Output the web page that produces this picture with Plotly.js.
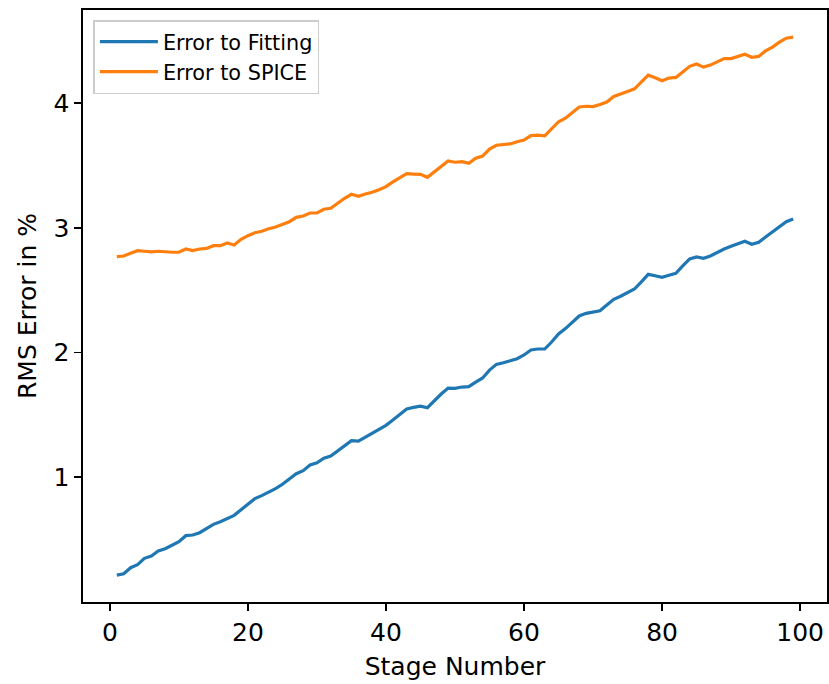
<!DOCTYPE html>
<html>
<head>
<meta charset="utf-8">
<script src="https://cdn.plot.ly/plotly-3.0.1.min.js"></script>
<style>html,body{margin:0;padding:0;background:#fff;}#chart{width:829px;height:684px;}</style>
</head>
<body>
<div id="chart"></div>
<script>
const stages = Array.from({length: 99}, (_, i) => i + 1);

const errorToFitting = [
  0.216, 0.227, 0.275, 0.299, 0.350, 0.369, 0.409, 0.427, 0.455, 0.484,
  0.532, 0.537, 0.556, 0.586, 0.623, 0.644, 0.668, 0.695, 0.740, 0.786,
  0.829, 0.853, 0.880, 0.909, 0.944, 0.987, 1.029, 1.053, 1.099, 1.117,
  1.153, 1.171, 1.212, 1.251, 1.294, 1.291, 1.321, 1.353, 1.385, 1.417,
  1.460, 1.505, 1.548, 1.561, 1.570, 1.558, 1.614, 1.668, 1.716, 1.713,
  1.724, 1.727, 1.764, 1.797, 1.860, 1.906, 1.919, 1.933, 1.951, 1.981,
  2.021, 2.029, 2.029, 2.085, 2.150, 2.193, 2.248, 2.294, 2.315, 2.326,
  2.336, 2.382, 2.428, 2.452, 2.478, 2.510, 2.567, 2.628, 2.617, 2.604,
  2.620, 2.636, 2.695, 2.751, 2.767, 2.757, 2.775, 2.805, 2.831, 2.853,
  2.874, 2.893, 2.869, 2.885, 2.928, 2.970, 3.005, 3.050, 3.072
];

const errorToSpice = [
  2.770, 2.775, 2.797, 2.818, 2.813, 2.808, 2.813, 2.808, 2.805, 2.805,
  2.831, 2.818, 2.831, 2.836, 2.858, 2.858, 2.879, 2.863, 2.909, 2.938,
  2.962, 2.973, 2.994, 3.007, 3.026, 3.050, 3.085, 3.096, 3.120, 3.120,
  3.150, 3.158, 3.198, 3.238, 3.270, 3.254, 3.272, 3.286, 3.307, 3.331,
  3.369, 3.403, 3.435, 3.432, 3.430, 3.406, 3.451, 3.489, 3.537, 3.527,
  3.532, 3.519, 3.559, 3.577, 3.633, 3.663, 3.671, 3.674, 3.692, 3.705,
  3.740, 3.745, 3.738, 3.791, 3.852, 3.880, 3.928, 3.970, 3.976, 3.973,
  3.990, 4.010, 4.055, 4.073, 4.095, 4.116, 4.172, 4.225, 4.205, 4.180,
  4.202, 4.207, 4.250, 4.296, 4.315, 4.290, 4.306, 4.330, 4.358, 4.358,
  4.374, 4.393, 4.369, 4.376, 4.420, 4.450, 4.490, 4.522, 4.530
];

const seriesNames = ["Error to Fitting", "Error to SPICE"];
const xTicks = [0, 20, 40, 60, 80, 100];
const yTicks = [1, 2, 3, 4];

const font = "DejaVu Sans, sans-serif";

const traces = [
  {x: stages, y: errorToFitting, name: seriesNames[0], type: "scatter", mode: "lines",
   line: {color: "#1f77b4", width: 3.2}},
  {x: stages, y: errorToSpice, name: seriesNames[1], type: "scatter", mode: "lines",
   line: {color: "#ff7f0e", width: 3.2}}
];

const axisCommon = {
  showgrid: false, zeroline: false,
  showline: true, mirror: true, linecolor: "#000", linewidth: 1.67,
  ticks: "outside", ticklen: 7, tickwidth: 1.67, tickcolor: "#000",
  tickfont: {family: font, size: 25, color: "#000"}
};

const layout = {
  width: 829, height: 684,
  paper_bgcolor: "#fff", plot_bgcolor: "#fff",
  margin: {l: 83, r: 2, t: 10, b: 82},
  showlegend: true,
  legend: {
    x: 0.014, y: 0.983, xanchor: "left", yanchor: "top",
    bgcolor: "rgba(255,255,255,0.8)", bordercolor: "#cccccc", borderwidth: 1.5,
    itemwidth: 58,
    font: {family: font, size: 20.8, color: "#000"}
  },
  xaxis: Object.assign({}, axisCommon, {
    range: [-3.9, 103.9], tickvals: xTicks, ticktext: xTicks.map(String),
    title: {text: "Stage Number", font: {family: font, size: 25, color: "#000"}, standoff: 12}
  }),
  yaxis: Object.assign({}, axisCommon, {
    range: [0.0, 4.748], tickvals: yTicks, ticktext: yTicks.map(String),
    title: {text: "RMS Error in %", font: {family: font, size: 25, color: "#000"}, standoff: 10}
  })
};

Plotly.newPlot("chart", traces, layout, {displayModeBar: false, staticPlot: true});
</script>
</body>
</html>
